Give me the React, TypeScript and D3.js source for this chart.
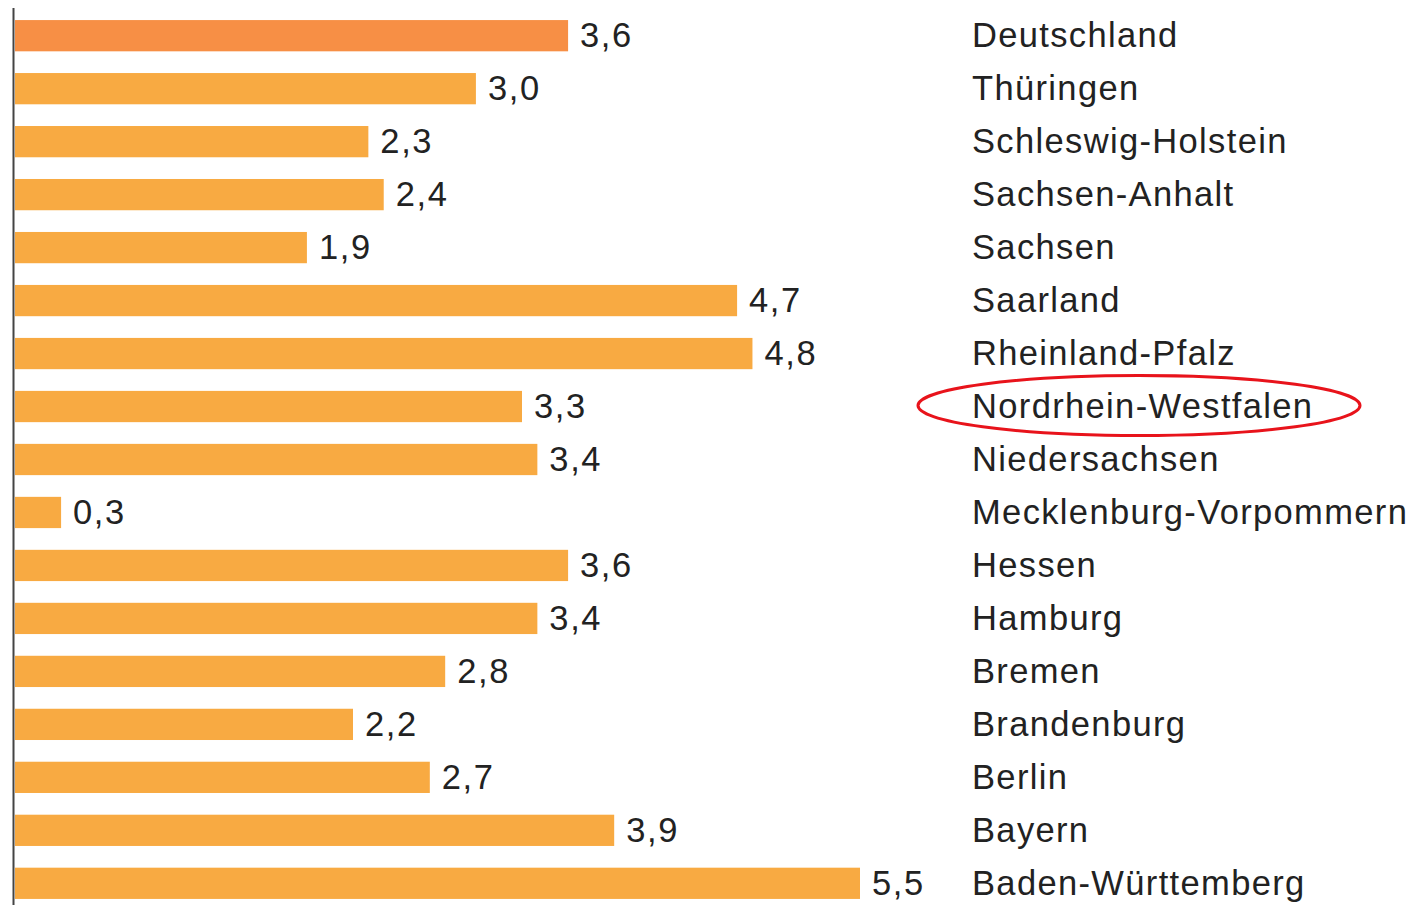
import React from "react";
import * as d3 from "d3";

const categories = ["Deutschland","Thüringen","Schleswig-Holstein","Sachsen-Anhalt","Sachsen","Saarland","Rheinland-Pfalz","Nordrhein-Westfalen","Niedersachsen","Mecklenburg-Vorpommern","Hessen","Hamburg","Bremen","Brandenburg","Berlin","Bayern","Baden-Württemberg"];
const values = [3.6,3.0,2.3,2.4,1.9,4.7,4.8,3.3,3.4,0.3,3.6,3.4,2.8,2.2,2.7,3.9,5.5];
const highlighted = "Nordrhein-Westfalen";

export default function App() {
  const W = 1415, H = 905;
  const x0 = 15;
  const x = d3.scaleLinear().domain([0, 5.5]).range([x0, 860]);
  const y = d3.scaleBand().domain(categories).range([10, 909]).paddingInner(0.41).paddingOuter(0.19);
  const fmt = (v: number) => v.toFixed(1).replace(".", ",");
  const font = "Liberation Sans, Arial, sans-serif";
  const hy = (y(highlighted) ?? 0) + y.bandwidth() / 2;
  return (
    <svg width={W} height={H} style={{ position: "absolute", left: 0, top: 0 }}>
      <rect width={W} height={H} fill="#fff" />
      {categories.map((c, i) => {
        const yy = y(c) ?? 0;
        const cy = yy + y.bandwidth() / 2;
        return (
          <g key={c}>
            <rect x={x(0)} y={yy} width={x(values[i]) - x(0)} height={y.bandwidth()} fill={i === 0 ? "#F78F45" : "#F8AA42"} />
            <text x={x(values[i]) + 12} y={cy} dy="0.33em" fontFamily={font} fontSize={34.5} letterSpacing={1.6} fill="#222">{fmt(values[i])}</text>
            <text x={972} y={cy} dy="0.33em" fontFamily={font} fontSize={34.5} letterSpacing={1.35} fill="#222">{c}</text>
          </g>
        );
      })}
      <line x1={13.5} x2={13.5} y1={8} y2={H} stroke="#444" strokeWidth={2} />
      <ellipse cx={1139} cy={hy - 1} rx={221} ry={30} fill="none" stroke="#E8131B" strokeWidth={3} />
    </svg>
  );
}
